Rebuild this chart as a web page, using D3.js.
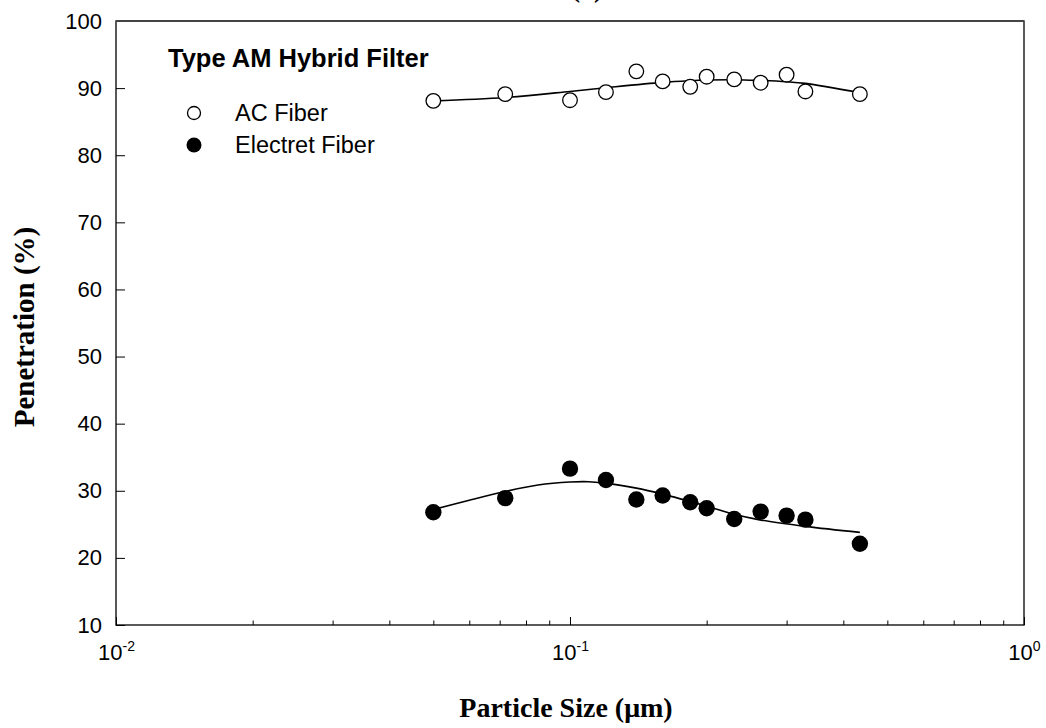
<!DOCTYPE html>
<html>
<head>
<meta charset="utf-8">
<script src="https://cdn.jsdelivr.net/npm/d3@7"></script>
<style>
  body { margin: 0; background: #fff; }
  svg { display: block; }
</style>
</head>
<body>
<div id="chart"></div>
<script>
// measured particle sizes (um)
var sizes = [0.05, 0.072, 0.1, 0.12, 0.14, 0.16, 0.184, 0.2, 0.23, 0.263, 0.3, 0.33, 0.435];
var acPen = [88.1, 89.1, 88.2, 89.4, 92.5, 91.0, 90.2, 91.7, 91.3, 90.8, 92.0, 89.5, 89.1];
var electretPen = [26.8, 28.9, 33.3, 31.6, 28.7, 29.3, 28.3, 27.4, 25.8, 26.9, 26.3, 25.7, 22.1];

// fitted curves
var acFitSizes = [0.05, 0.072, 0.1, 0.12, 0.16, 0.184, 0.2, 0.23, 0.26, 0.3, 0.33, 0.435];
var acFit = [88.1, 88.6, 89.5, 90.05, 90.85, 91.1, 91.2, 91.25, 91.15, 90.95, 90.7, 89.3];
var elFitSizes = [0.05, 0.06, 0.072, 0.085, 0.1, 0.11, 0.12, 0.14, 0.16, 0.2, 0.23, 0.26, 0.33, 0.435];
var elFit = [27.2, 28.6, 29.9, 30.85, 31.3, 31.35, 31.1, 30.4, 29.5, 27.7, 26.5, 25.7, 24.7, 23.8];

var yTicks = [10, 20, 30, 40, 50, 60, 70, 80, 90, 100];
var xMajor = [0.01, 0.1, 1];
var xMajorExp = ["-2", "-1", "0"];

var width = 1046, height = 728;
var plotLeft = 116, plotRight = 1024, plotTop = 21, plotBottom = 625;

var svg = d3.select("#chart")
    .append("svg")
    .attr("width", width)
    .attr("height", height);

var x = d3.scaleLog().domain([0.01, 1]).range([plotLeft, plotRight]);
var y = d3.scaleLinear().domain([10, 100]).range([plotBottom, plotTop]);

var sans = "'Liberation Sans', Arial, sans-serif";
var serif = "'Liberation Serif', 'Times New Roman', serif";

// panel label, mostly cut off at the top (as in the original)
svg.append("text")
    .attr("x", 587)
    .attr("y", -3)
    .attr("text-anchor", "middle")
    .style("font-family", serif)
    .style("font-weight", "bold")
    .style("font-size", "28px")
    .text("(a)");

// y axis
var yAxis = d3.axisLeft(y)
    .tickValues(yTicks)
    .tickSizeInner(-9)
    .tickSizeOuter(0)
    .tickPadding(14);

var gy = svg.append("g")
    .attr("transform", "translate(" + plotLeft + ",0)")
    .call(yAxis);
gy.selectAll("text")
    .style("font-family", sans)
    .style("font-size", "22px")
    .attr("fill", "#000");
gy.selectAll("line").attr("stroke", "#000");
gy.select(".domain").remove();

// x axis: minor ticks then major
var xMinor = [];
[0.01, 0.1].forEach(function(dec) {
    for (var k = 2; k <= 9; k++) xMinor.push(dec * k);
});

var gxMinor = svg.append("g")
    .attr("transform", "translate(0," + plotBottom + ")")
    .call(d3.axisBottom(x).tickValues(xMinor).tickSizeInner(-4.5).tickSizeOuter(0).tickFormat(""));
gxMinor.select(".domain").remove();
gxMinor.selectAll("line").attr("stroke", "#000");

var gx = svg.append("g")
    .attr("transform", "translate(0," + plotBottom + ")")
    .call(d3.axisBottom(x).tickValues(xMajor).tickSizeInner(-8).tickSizeOuter(0).tickFormat(""));
gx.select(".domain").remove();
gx.selectAll("line").attr("stroke", "#000");

var xlab = gx.selectAll(".tick").append("text")
    .attr("y", 35)
    .attr("fill", "#000")
    .attr("text-anchor", "middle")
    .style("font-family", sans)
    .style("font-size", "22px");
xlab.append("tspan").text("10");
xlab.append("tspan")
    .attr("dy", -9)
    .style("font-size", "14px")
    .text(function(d, i) { return xMajorExp[i]; });

// frame
svg.append("rect")
    .attr("x", plotLeft)
    .attr("y", plotTop)
    .attr("width", plotRight - plotLeft)
    .attr("height", plotBottom - plotTop)
    .attr("fill", "none")
    .attr("stroke", "#000")
    .attr("stroke-width", 1.3);
svg.append("line")
    .attr("x1", plotLeft).attr("x2", plotRight)
    .attr("y1", plotTop).attr("y2", plotTop)
    .attr("stroke", "#444")
    .attr("stroke-width", 2);

// axis titles
svg.append("text")
    .attr("transform", "translate(34," + ((plotTop + plotBottom) / 2 + 4) + ") rotate(-90)")
    .attr("text-anchor", "middle")
    .style("font-family", serif)
    .style("font-weight", "bold")
    .style("font-size", "29px")
    .text("Penetration (%)");

svg.append("text")
    .attr("x", 566)
    .attr("y", 717)
    .attr("text-anchor", "middle")
    .style("font-family", serif)
    .style("font-weight", "bold")
    .style("font-size", "28px")
    .text("Particle Size (\u03bcm)");

// fitted lines
var line = d3.line()
    .x(function(d) { return x(d[0]); })
    .y(function(d) { return y(d[1]); })
    .curve(d3.curveCatmullRom.alpha(0.5));

svg.append("path")
    .datum(d3.zip(acFitSizes, acFit))
    .attr("d", line)
    .attr("fill", "none")
    .attr("stroke", "#000")
    .attr("stroke-width", 1.6);

svg.append("path")
    .datum(d3.zip(elFitSizes, elFit))
    .attr("d", line)
    .attr("fill", "none")
    .attr("stroke", "#000")
    .attr("stroke-width", 1.6);

// points
svg.append("g").selectAll("circle")
    .data(d3.zip(sizes, acPen))
    .enter()
    .append("circle")
    .attr("cx", function(d) { return x(d[0]); })
    .attr("cy", function(d) { return y(d[1]); })
    .attr("r", 7.3)
    .attr("fill", "#fff")
    .attr("stroke", "#000")
    .attr("stroke-width", 1.3);

svg.append("g").selectAll("circle")
    .data(d3.zip(sizes, electretPen))
    .enter()
    .append("circle")
    .attr("cx", function(d) { return x(d[0]); })
    .attr("cy", function(d) { return y(d[1]); })
    .attr("r", 8.2)
    .attr("fill", "#000");

// legend
svg.append("text")
    .attr("x", 168)
    .attr("y", 67)
    .style("font-family", sans)
    .style("font-weight", "bold")
    .style("font-size", "25.5px")
    .text("Type AM Hybrid Filter");

svg.append("circle")
    .attr("cx", 194).attr("cy", 113)
    .attr("r", 6.5)
    .attr("fill", "#fff")
    .attr("stroke", "#000")
    .attr("stroke-width", 1.3);
svg.append("text")
    .attr("x", 235).attr("y", 121)
    .style("font-family", sans)
    .style("font-size", "23.5px")
    .text("AC Fiber");

svg.append("circle")
    .attr("cx", 194).attr("cy", 145)
    .attr("r", 7.5)
    .attr("fill", "#000");
svg.append("text")
    .attr("x", 235).attr("y", 153)
    .style("font-family", sans)
    .style("font-size", "23.5px")
    .text("Electret Fiber");
</script>
</body>
</html>
